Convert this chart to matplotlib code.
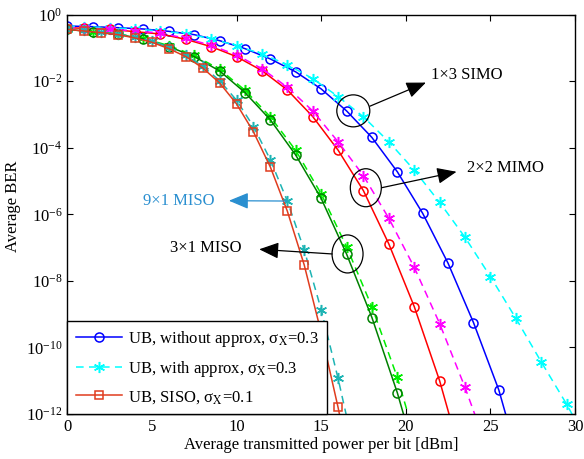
import numpy as np
import matplotlib
matplotlib.use('Agg')
import matplotlib.pyplot as plt
from matplotlib.patches import Ellipse
from matplotlib.ticker import LogLocator, NullLocator

# BER curves, stored as exponents: BER = 10 ** (-value)
# 1x3 SIMO
simo_x = [0, 1.5, 3, 4.5, 6, 7.5, 9, 10.5, 12, 13.5, 15, 16.5, 18, 19.5,
          21, 22.5, 24, 25.5, 27]
simo_ub = [0.34, 0.36, 0.39, 0.43, 0.50, 0.60, 0.78, 1.02, 1.33, 1.72, 2.23,
           2.89, 3.69, 4.72, 5.97, 7.47, 9.25, 11.28, 13.98]
simo_apx_x = [0, 1, 2.5, 4, 5.5, 7, 8.5, 10, 11.5, 13, 14.5, 16, 17.5, 19,
              20.5, 22, 23.5, 25, 26.5, 28, 29.5, 31]
simo_apx = [0.34, 0.36, 0.39, 0.43, 0.49, 0.57, 0.72, 0.93, 1.18, 1.50, 1.92,
            2.46, 3.07, 3.82, 4.67, 5.64, 6.69, 7.87, 9.12, 10.43, 11.70, 13.1]
# 2x2 MIMO
mimo_x = [0, 1, 2.5, 4, 5.5, 7, 8.5, 10, 11.5, 13, 14.5, 16, 17.5, 19, 20.5,
          22, 23.5]
mimo_ub = [0.39, 0.41, 0.44, 0.51, 0.58, 0.74, 0.96, 1.26, 1.68, 2.26, 3.06,
           4.07, 5.29, 6.89, 8.77, 11.0, 13.7]
mimo_apx_x = [0, 1, 2.5, 4, 5.5, 7, 8.5, 10, 11.5, 13, 14.5, 16, 17.5, 19,
              20.5, 22, 23.5, 25]
mimo_apx = [0.38, 0.40, 0.43, 0.49, 0.55, 0.71, 0.92, 1.21, 1.62, 2.18, 2.89,
            3.82, 4.84, 6.12, 7.59, 9.28, 11.2, 13.3]
# 3x1 MISO
miso3_x = [0, 1.5, 3, 4.5, 6, 7.5, 9, 10.5, 12, 13.5, 15, 16.5, 18, 19.5, 21]
miso3_ub = [0.44, 0.52, 0.59, 0.73, 0.96, 1.26, 1.69, 2.34, 3.16, 4.22, 5.52,
            7.19, 9.1, 11.36, 14.0]
miso3_apx = [0.43, 0.51, 0.58, 0.71, 0.93, 1.22, 1.64, 2.27, 3.07, 4.08, 5.38,
             6.97, 8.78, 10.9, 13.5]
# SISO / 9x1 MISO
siso_x = [0, 1, 2, 3, 4, 5, 6, 7, 8, 9, 10, 11, 12, 13, 14, 15, 16, 17]
siso_ub = [0.44, 0.49, 0.54, 0.60, 0.70, 0.83, 1.02, 1.26, 1.60, 2.05, 2.68,
           3.52, 4.58, 5.9, 7.52, 9.55, 11.8, 14.3]
miso9_apx = [0.43, 0.47, 0.53, 0.58, 0.67, 0.79, 0.97, 1.21, 1.55, 1.98, 2.57,
             3.36, 4.36, 5.6, 7.07, 8.86, 10.93, 13.2]

legend_labels = [r'UB, without approx, σ$_{\mathrm{X}}$=0.3',
                 r'UB, with approx, σ$_{\mathrm{X}}$=0.3',
                 r'UB, SISO, σ$_{\mathrm{X}}$=0.1']

plt.rcParams['font.family'] = ['Liberation Serif', 'DejaVu Serif']
plt.rcParams['mathtext.fontset'] = 'stix'

ASTER = (6, 2, 0)
C_SISO = '#e03c1e'
C_TEAL = '#1eb4b4'
C_MISO9 = '#2a8fd0'


def ber(v):
    return 10.0 ** (-np.asarray(v))


def curve(ax, x, v, color, marker, dashed=False, skip_first=False, ms=6.5):
    n = len(x)
    start = 1 if skip_first else 0
    kw = dict(color=color, lw=1.1, marker=marker, ms=ms, mfc='none',
              mec=color, mew=1.1, markevery=list(range(start, n - 1)))
    if dashed:
        kw['dashes'] = (5, 3.5)
    line, = ax.plot(x, ber(v), **kw)
    return line


fig = plt.figure(figsize=(5.84, 4.59), dpi=100)
ax = fig.add_axes([0.1152, 0.098, 0.8694, 0.870])
ax.set_yscale('log')

h_ub = curve(ax, simo_x, simo_ub, 'blue', 'o')
h_apx = curve(ax, simo_apx_x, simo_apx, 'cyan', ASTER, dashed=True,
              skip_first=True, ms=8)
curve(ax, mimo_x, mimo_ub, 'red', 'o', skip_first=True)
curve(ax, mimo_apx_x, mimo_apx, 'magenta', ASTER, dashed=True,
      skip_first=True, ms=8)
curve(ax, miso3_x, miso3_apx, '#00ee00', ASTER, dashed=True, ms=8)
curve(ax, miso3_x, miso3_ub, 'green', 'o')
curve(ax, siso_x, miso9_apx, C_TEAL, ASTER, dashed=True, ms=8)
h_siso = curve(ax, siso_x, siso_ub, C_SISO, 's', ms=6)

ax.set_xlim(0, 30)
ax.set_ylim(1e-12, 1e0)
ax.yaxis.set_major_locator(LogLocator(base=100, numticks=10))
ax.yaxis.set_minor_locator(NullLocator())
ax.set_xticks([0, 5, 10, 15, 20, 25, 30])
ax.tick_params(direction='in', top=True, right=True, length=4, width=0.8,
               labelsize=12)
for s in ax.spines.values():
    s.set_linewidth(1.0)
ax.set_xlabel('Average transmitted power per bit [dBm]', fontsize=12)
ax.xaxis.set_label_coords(0.5, -0.058)
ax.set_ylabel('Average BER', fontsize=12)
ax.yaxis.set_label_coords(-0.107, 0.52)
ax.yaxis.label.set_va('center')

leg = ax.legend([h_ub, h_apx, h_siso], legend_labels, loc='lower left',
                bbox_to_anchor=(0, 0), borderaxespad=0, fancybox=False,
                framealpha=1, edgecolor='black', fontsize=12,
                handlelength=2.8, labelspacing=0.6, borderpad=0.5,
                handletextpad=0.35)
leg.get_frame().set_linewidth(1.0)
leg.set_zorder(5)

to_axes = ax.transData + ax.transAxes.inverted()
W, H = 507.7, 399.3  # axes size in pixels


def ring(xd, d, w, h):
    cx, cy = to_axes.transform((xd, 10.0 ** (-d)))
    ax.add_patch(Ellipse((cx, cy), w / W, h / H, transform=ax.transAxes,
                         fill=False, ec='black', lw=0.9, zorder=6))


def pointer(tail, head, text, color='black', ha='left'):
    tx, td, hx, hd, lx, ld = tail + head + text[1:]
    ax.annotate('', xy=(hx, 10.0 ** (-hd)), xytext=(tx, 10.0 ** (-td)),
                arrowprops=dict(arrowstyle='-|>,head_length=0.6,head_width=0.25',
                                color=color, lw=0.9, mutation_scale=20,
                                shrinkA=0, shrinkB=0), zorder=6)
    ax.text(lx, 10.0 ** (-ld), text[0], color=color, fontsize=12, ha=ha,
            va='center', zorder=6)


ring(16.9, 2.89, 33, 32)
ring(17.64, 5.2, 31, 38)
ring(16.56, 7.19, 31, 38)
pointer((17.88, 2.75), (21.19, 2.04), ('1\u00d73 SIMO', 21.52, 1.81))
pointer((18.57, 5.2), (23.0, 4.72), ('2\u00d72 MIMO', 23.59, 4.62))
pointer((15.65, 7.19), (11.34, 7.05), ('3\u00d71 MISO', 10.30, 7.02),
        ha='right')
pointer((12.98, 5.6), (9.55, 5.59), ('9\u00d71 MISO', 8.72, 5.59),
        color=C_MISO9, ha='right')

fig.savefig('out.png', dpi=100)
